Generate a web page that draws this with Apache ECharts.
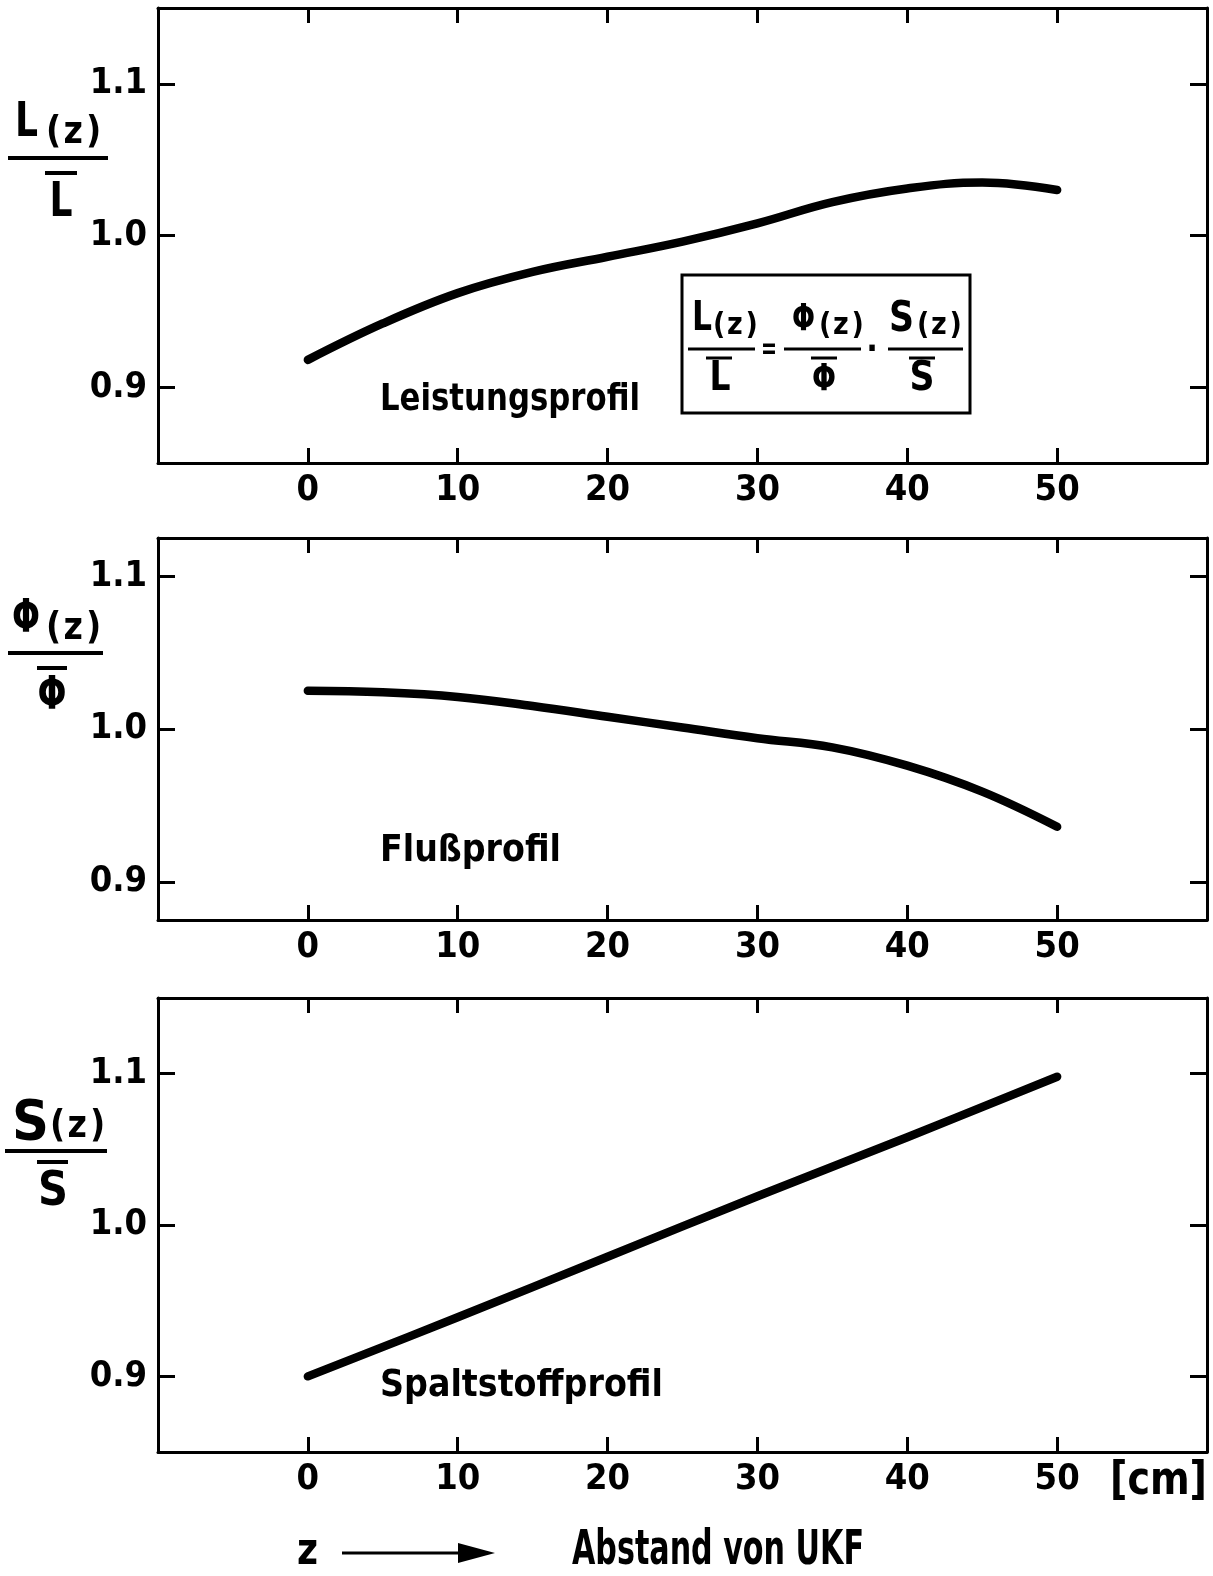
<!DOCTYPE html>
<html>
<head>
<meta charset="utf-8">
<script src="https://cdn.jsdelivr.net/npm/echarts@6/dist/echarts.min.js"></script>
<style>
html,body{margin:0;padding:0;background:#fff;}
#c{width:1213px;height:1576px;}
</style>
</head>
<body>
<div id="c"></div>
<script>
// ---- data ----
const Z_L = [0, 5, 10, 15, 20, 25, 30, 35, 40, 45, 50];
const L_VALS = [0.918, 0.942, 0.962, 0.976, 0.986, 0.996, 1.008, 1.022, 1.031, 1.035, 1.030];
const Z_PHI = [0, 5, 10, 15, 20, 25, 30, 35, 40, 45, 50];
const PHI_VALS = [1.025, 1.024, 1.021, 1.015, 1.008, 1.001, 0.994, 0.988, 0.976, 0.959, 0.936];
const Z_S = [0, 10, 20, 30, 40, 50];
const S_VALS = [0.900, 0.939, 0.979, 1.019, 1.058, 1.098];
const X_TICKS = [0, 10, 20, 30, 40, 50];
const Y_TICKS = [0.9, 1.0, 1.1];
const Y_RANGES = [[0.85, 1.15], [0.875, 1.125], [0.85, 1.15]];
const CURVE_LABELS = ['Leistungsprofil', 'Flußprofil', 'Spaltstoffprofil'];
const X_UNIT = '[cm]';
const X_TITLE = 'Abstand von UKF';

const FONT_N = '"DejaVu Sans Condensed","Liberation Sans",sans-serif';

const grids = [
  {left: 158, top: 8, width: 1049, height: 455},
  {left: 158, top: 538, width: 1049, height: 382},
  {left: 158, top: 998, width: 1049, height: 454}
];

const AX = {color: '#000', width: 3};
const xAxes = [], yAxes = [];
grids.forEach((g, i) => {
  xAxes.push({
    type: 'value', gridIndex: i, position: 'bottom', min: -10, max: 60, interval: 10,
    axisLine: {onZero: false, lineStyle: AX},
    axisTick: {inside: true, length: 15, lineStyle: AX, customValues: X_TICKS},
    axisLabel: {customValues: X_TICKS, fontSize: 36, fontWeight: 'bold', fontFamily: FONT_N, color: '#000', margin: 10},
    splitLine: {show: false}
  });
  xAxes.push({
    type: 'value', gridIndex: i, position: 'top', min: -10, max: 60, interval: 10,
    axisLine: {onZero: false, lineStyle: AX},
    axisTick: {inside: true, length: 15, lineStyle: AX, customValues: X_TICKS},
    axisLabel: {show: false},
    splitLine: {show: false}
  });
  yAxes.push({
    type: 'value', gridIndex: i, position: 'left', min: Y_RANGES[i][0], max: Y_RANGES[i][1],
    axisLine: {onZero: false, lineStyle: AX},
    axisTick: {inside: true, length: 17, lineStyle: AX, customValues: Y_TICKS},
    axisLabel: {customValues: Y_TICKS, fontSize: 36, fontWeight: 'bold', fontFamily: FONT_N, color: '#000', margin: 11,
      formatter: v => Number(v).toFixed(1)},
    splitLine: {show: false}
  });
  yAxes.push({
    type: 'value', gridIndex: i, position: 'right', min: Y_RANGES[i][0], max: Y_RANGES[i][1],
    axisLine: {onZero: false, lineStyle: AX},
    axisTick: {inside: true, length: 17, lineStyle: AX, customValues: Y_TICKS},
    axisLabel: {show: false},
    splitLine: {show: false}
  });
});

function pairs(xs, ys) { return xs.map((x, k) => [x, ys[k]]); }
const seriesData = [pairs(Z_L, L_VALS), pairs(Z_PHI, PHI_VALS), pairs(Z_S, S_VALS)];
const series = seriesData.map((d, i) => ({
  type: 'line', xAxisIndex: 2 * i, yAxisIndex: 2 * i, data: d, smooth: 0.4,
  symbol: 'none', lineStyle: {color: '#000', width: 8.5, cap: 'round', join: 'round'},
  silent: true, animation: false
}));

// ---- graphic helpers ----
const mctx = document.createElement('canvas').getContext('2d');
function measure(s, size) {
  mctx.font = 'bold ' + size + 'px ' + FONT_N;
  return mctx.measureText(s).width;
}
// text fitted horizontally to target width w (if given)
function txt(x, y, s, size, align, w) {
  const sx = w ? w / measure(s, size) : 1;
  return {type: 'text', x: x, y: y, scaleX: sx, silent: true,
    style: {text: s, fontSize: size, fontWeight: 'bold', fontFamily: FONT_N, fill: '#000',
      align: align || 'left', verticalAlign: 'middle'}};
}
function ln(x1, y1, x2, y2, w) {
  return {type: 'line', silent: true, shape: {x1, y1, x2, y2}, style: {stroke: '#000', lineWidth: w || 4}};
}
function subZ(x, y, size) {
  return [txt(x, y, '(', size), txt(x + 0.47 * size, y, 'z', size), txt(x + 1.08 * size, y, ')', size)];
}
function frac(o) {
  return [
    txt(o.tx, o.ty, o.sym, o.ts, 'left', o.tw),
    ...subZ(o.zx, o.zy, o.zs),
    ln(o.b1, o.by, o.b2, o.by, o.bw || 4),
    ln(o.o1, o.oy, o.o2, o.oy, o.bw || 4),
    txt(o.bcx, o.bcy, o.sym, o.bs, 'center', o.bwid)
  ];
}

const graphics = [];
// y-axis titles
graphics.push(...frac({sym: 'L', tx: 15, ty: 124, ts: 48, tw: 23, zx: 46, zy: 133, zs: 37,
  b1: 8, b2: 108, by: 158, o1: 45, o2: 77, oy: 173, bcx: 61, bcy: 204, bs: 48, bwid: 23}));
graphics.push(...frac({sym: 'Φ', tx: 12, ty: 620, ts: 46, tw: 28, zx: 46, zy: 629, zs: 37,
  b1: 8, b2: 103, by: 653, o1: 37, o2: 67, oy: 668, bcx: 52, bcy: 697, bs: 46, bwid: 29}));
graphics.push(...frac({sym: 'S', tx: 12, ty: 1124, ts: 56, tw: 37, zx: 50, zy: 1127, zs: 37,
  b1: 5, b2: 107, by: 1151, o1: 37, o2: 68, oy: 1162, bcx: 53, bcy: 1193, bs: 48, bwid: 30}));

// formula box
graphics.push({type: 'rect', silent: true, shape: {x: 682, y: 275, width: 288, height: 138},
  style: {fill: 'none', stroke: '#000', lineWidth: 3}});
graphics.push(...frac({sym: 'L', tx: 692, ty: 320, ts: 40, tw: 20, zx: 713, zy: 326, zs: 30,
  b1: 688, b2: 755, by: 349, o1: 706, o2: 732, oy: 358, bcx: 720, bcy: 380, bs: 40, bwid: 21, bw: 3}));
graphics.push(txt(769, 350, '=', 30, 'center', 16));
graphics.push(...frac({sym: 'Φ', tx: 792, ty: 320, ts: 38, tw: 23, zx: 819, zy: 326, zs: 30,
  b1: 784, b2: 861, by: 349, o1: 811, o2: 837, oy: 358, bcx: 824, bcy: 380, bs: 38, bwid: 24, bw: 3}));
graphics.push(txt(872, 351, '·', 34, 'center'));
graphics.push(...frac({sym: 'S', tx: 889, ty: 320, ts: 42, tw: 25, zx: 917, zy: 326, zs: 30,
  b1: 888, b2: 963, by: 349, o1: 909, o2: 935, oy: 358, bcx: 922, bcy: 380, bs: 40, bwid: 25, bw: 3}));

// curve labels
graphics.push(txt(380, 400, CURVE_LABELS[0], 38, 'left', 260));
graphics.push(txt(380, 851, CURVE_LABELS[1], 38, 'left', 181));
graphics.push(txt(380, 1386, CURVE_LABELS[2], 38, 'left', 283));

// bottom annotations
graphics.push(txt(1110, 1482, X_UNIT, 46, 'left', 97));
graphics.push(txt(297, 1553, 'z', 44, 'left', 21));
graphics.push(ln(342, 1553, 462, 1553, 3));
graphics.push({type: 'polygon', silent: true, shape: {points: [[458, 1543], [495, 1553], [458, 1563]]},
  style: {fill: '#000'}});
graphics.push(txt(572, 1552, X_TITLE, 48, 'left', 292));

const chart = echarts.init(document.getElementById('c'), null, {renderer: 'canvas'});
chart.setOption({
  animation: false,
  backgroundColor: '#fff',
  grid: grids,
  xAxis: xAxes,
  yAxis: yAxes,
  series: series,
  graphic: graphics
});
</script>
</body>
</html>
